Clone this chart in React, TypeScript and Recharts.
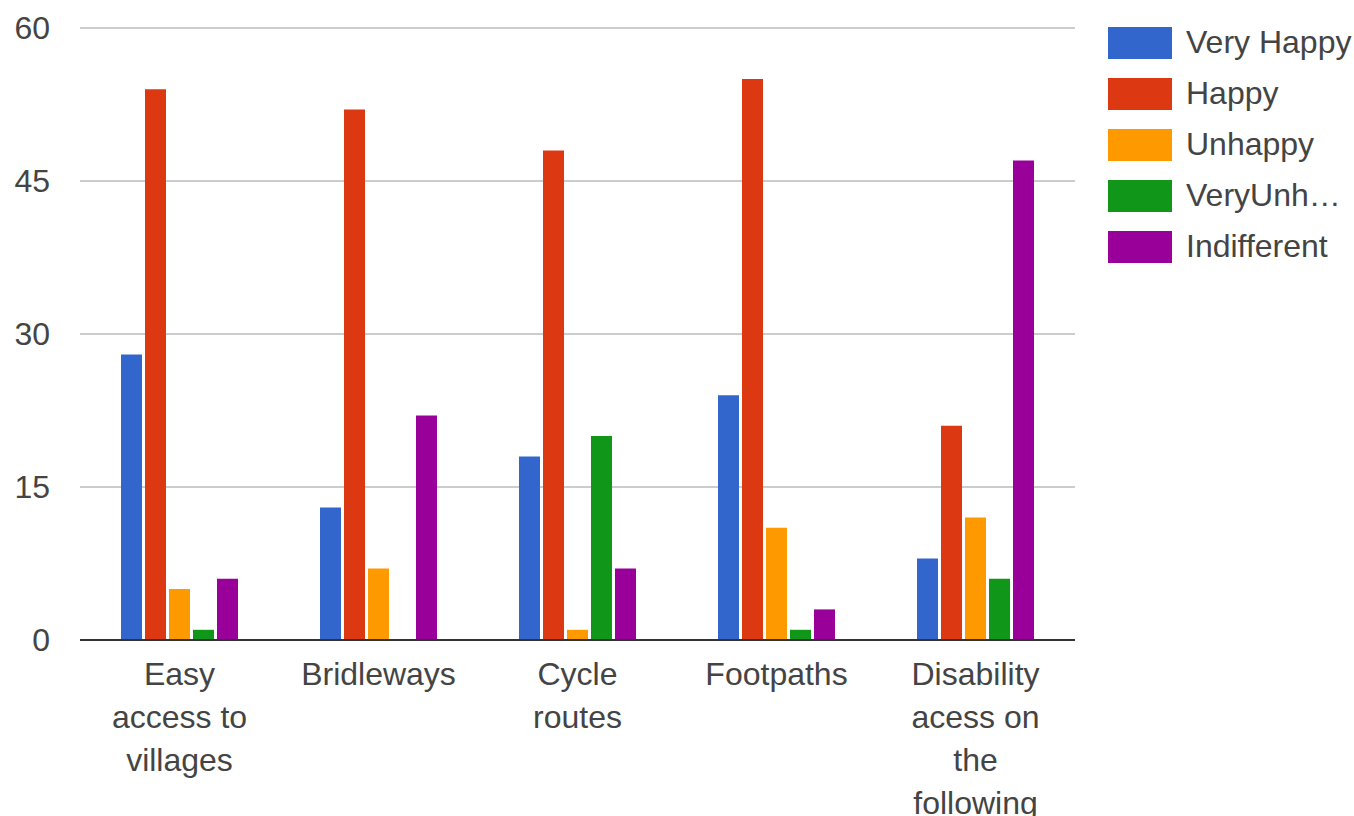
import { Bar, BarChart, CartesianGrid, XAxis, YAxis } from 'recharts';

const categories = ['Easy access to villages', 'Bridleways', 'Cycle routes', 'Footpaths', 'Disability acess on the following'];
const veryHappy = [28, 13, 18, 24, 8];
const happy = [54, 52, 48, 55, 21];
const unhappy = [5, 7, 1, 11, 12];
const veryUnhappy = [1, 0, 20, 1, 6];
const indifferent = [6, 22, 7, 3, 47];
const yTicks = [0, 15, 30, 45, 60];

const series = [
  { key: 'veryHappy', name: 'Very Happy', color: '#3366cc' },
  { key: 'happy', name: 'Happy', color: '#dc3912' },
  { key: 'unhappy', name: 'Unhappy', color: '#ff9900' },
  { key: 'veryUnhappy', name: 'VeryUnh…', color: '#109618' },
  { key: 'indifferent', name: 'Indifferent', color: '#990099' },
];

const data = categories.map((name, i) => ({
  name,
  veryHappy: veryHappy[i],
  happy: happy[i],
  unhappy: unhappy[i],
  veryUnhappy: veryUnhappy[i],
  indifferent: indifferent[i],
}));

const FONT = '"Liberation Sans", Arial, sans-serif';

function wrap(text: string, max: number) {
  const lines: string[] = [];
  let cur = '';
  for (const w of text.split(' ')) {
    const next = cur ? cur + ' ' + w : w;
    if (next.length > max && cur) {
      lines.push(cur);
      cur = w;
    } else {
      cur = next;
    }
  }
  if (cur) lines.push(cur);
  return lines;
}

function CategoryTick({ x, y, payload }: any) {
  const lines = wrap(payload.value, 10);
  return (
    <text x={x} y={y} textAnchor="middle" fill="#444" fontSize={32} fontFamily={FONT}>
      {lines.map((l, i) => (
        <tspan key={i} x={x} dy={i === 0 ? 37 : 43}>
          {l}
        </tspan>
      ))}
    </text>
  );
}

function SideLegend() {
  return (
    <div style={{ position: 'absolute', left: 1108, top: 17, fontFamily: FONT }}>
      {series.map((s) => (
        <div key={s.key} style={{ display: 'flex', alignItems: 'center', height: 51 }}>
          <div style={{ width: 64, height: 32, background: s.color }} />
          <span style={{ marginLeft: 14, fontSize: 32, color: '#444', whiteSpace: 'nowrap' }}>{s.name}</span>
        </div>
      ))}
    </div>
  );
}

export default function App() {
  return (
    <div style={{ position: 'absolute', left: 0, top: 0, width: 1354, height: 816, background: '#fff', overflow: 'hidden' }}>
      <BarChart
        width={1354}
        height={816}
        data={data}
        margin={{ top: 28, right: 279, bottom: 0, left: 0 }}
        barGap={3}
        barSize={21}
      >
        <CartesianGrid vertical={false} stroke="#cccccc" strokeWidth={2} />
        <XAxis
          dataKey="name"
          tick={<CategoryTick />}
          tickLine={false}
          axisLine={{ stroke: '#333', strokeWidth: 2 }}
          interval={0}
          height={176}
        />
        <YAxis
          domain={[0, 60]}
          ticks={yTicks}
          width={80}
          axisLine={false}
          tickLine={false}
          tickSize={0}
          tickMargin={30}
          tick={{ fill: '#444', fontSize: 32, fontFamily: FONT }}
        />
        {series.map((s) => (
          <Bar key={s.key} dataKey={s.key} name={s.name} fill={s.color} isAnimationActive={false} />
        ))}
      </BarChart>
      <SideLegend />
    </div>
  );
}
